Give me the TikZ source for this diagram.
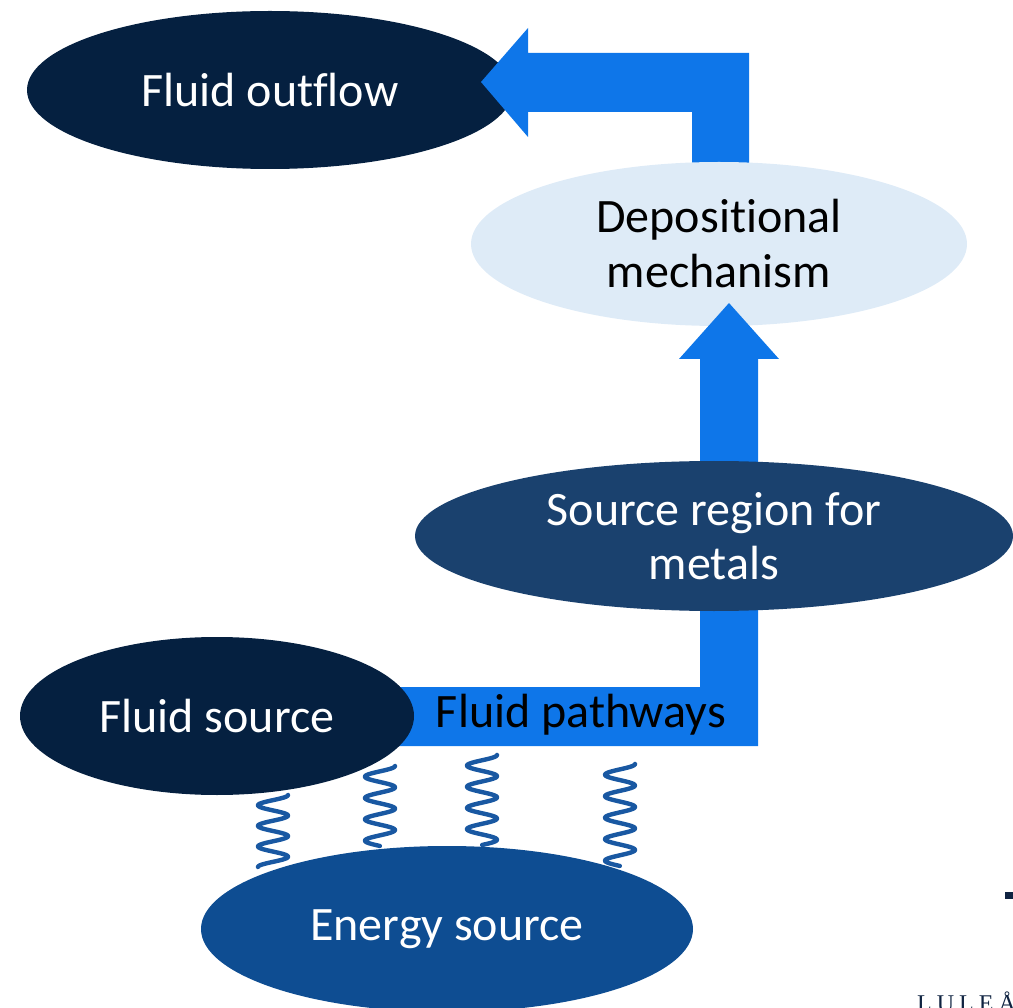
\documentclass[tikz,border=0pt]{standalone}
\usepackage{fontspec}
\setmainfont{Carlito}[Ligatures={NoCommon}]
\newfontfamily\logofont{Liberation Serif}
\usetikzlibrary{shapes.geometric}
\definecolor{navy}{RGB}{5,32,64}
\definecolor{paleblue}{RGB}{222,235,247}
\definecolor{midnavy}{RGB}{26,65,110}
\definecolor{energyblue}{RGB}{14,77,146}
\definecolor{arrowblue}{RGB}{14,118,233}
\definecolor{springblue}{RGB}{25,88,162}
\definecolor{logonavy}{RGB}{15,35,65}
\tikzset{
  ell/.style={ellipse, inner sep=0pt, align=center, draw=none,
    font=\fontsize{48}{55}\selectfont},
  blockarrow/.style={fill=arrowblue, draw=none},
  springline/.style={draw=springblue, line width=4.4pt, line cap=round, line join=round}
}
\newcommand\springwave[4]{%
  \draw[springline] plot[domain=0:1, samples=160, smooth, variable=\t]
    ({#1+15*cos(360*#4*\t)}, {#2+#3*\t});}
\begin{document}
\begin{tikzpicture}[x=1pt,y=-1pt]
\useasboundingbox (0,0) rectangle (1013,1008);
\clip (0,0) rectangle (1013,1008);
% Fluid outflow
\node[ell, fill=navy, text=white, minimum width=486pt, minimum height=158pt] (outflow) at (270,90) {Fluid outflow};
% bent arrow to outflow
\coordinate (tip1) at (481,82);
\fill[blockarrow] (tip1) -- (528,28) -- (528,53) -- (749,53) -- (749,175) -- (692,175) -- (692,112) -- (528,112) -- (528,137) -- cycle;
% Depositional mechanism
\node[ell, fill=paleblue, text=black, minimum width=496pt, minimum height=164pt] (depo) at (719,244) {Depositional\\mechanism};
% up arrow
\coordinate (tip2) at (729,303);
\fill[blockarrow] (tip2) -- (779,359) -- (758,359) -- (758,480) -- (700,480) -- (700,359) -- (679,359) -- cycle;
% fluid pathways L
\fill[blockarrow] (380,687) -- (700,687) -- (700,590) -- (758,590) -- (758,746) -- (380,746) -- cycle;
% Source region
\node[ell, fill=midnavy, text=white, minimum width=598pt, minimum height=150pt] (srcreg) at (714,536) {Source region for\\[-1pt]metals};
% Fluid source
\node[ell, fill=navy, text=white, minimum width=394pt, minimum height=158pt] (fsrc) at (217,716) {Fluid source};
% springs
\springwave{273}{795}{72}{3.5}
\springwave{380}{766}{80}{3.75}
\springwave{482}{755}{90}{4.25}
\springwave{620}{764}{102}{4.75}
% Energy source
\node[ell, fill=energyblue, text=white, minimum width=492pt, minimum height=166pt] (energy) at (447,929) {Energy source};
% Fluid pathways label
\node[font=\fontsize{48}{55}\selectfont, text=black, inner sep=0pt] (path) at (581,715) {Fluid pathways};
% logo fragments
\fill[logonavy] (1005,892) rectangle (1013,899);
\node[anchor=base west, inner sep=0pt, text=logonavy, font=\logofont\fontsize{24}{26}\selectfont] (logo) at (917,1011) {L\hspace{5pt}U\hspace{5pt}L\hspace{5pt}E\hspace{5pt}Å};
\end{tikzpicture}
\end{document}
